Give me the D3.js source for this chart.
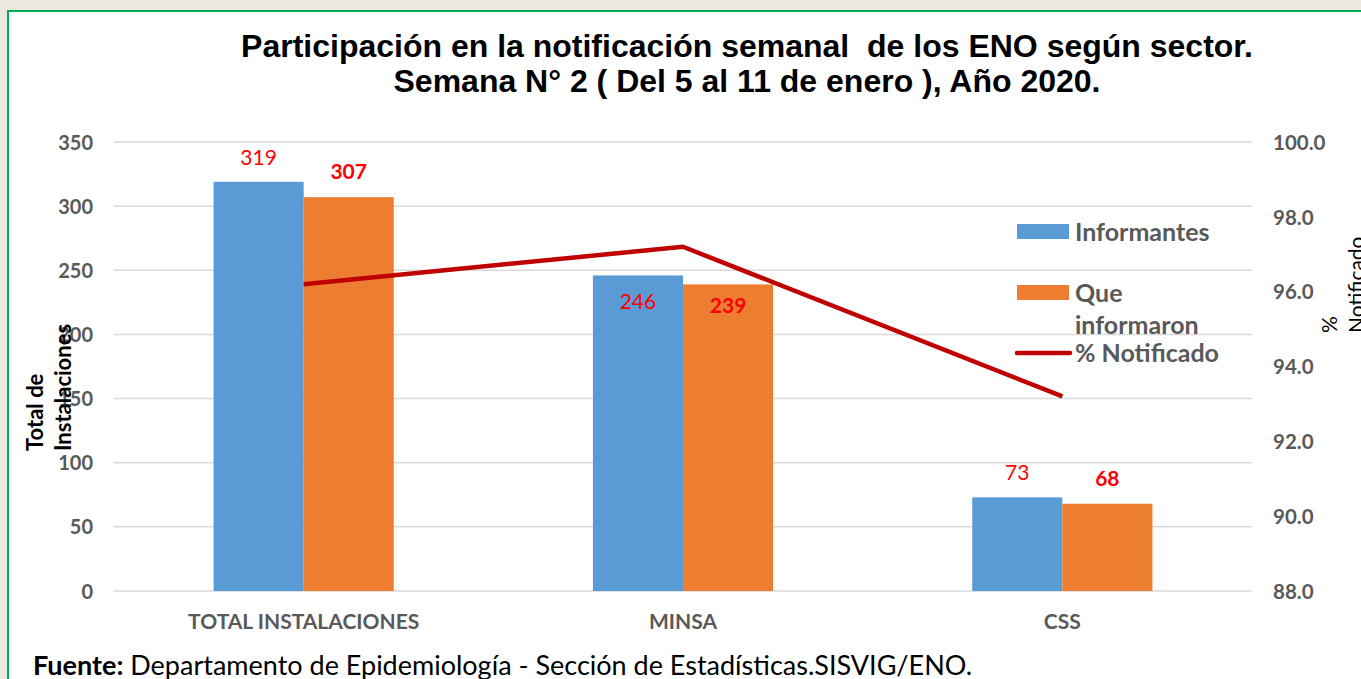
<!DOCTYPE html>
<html>
<head>
<meta charset="utf-8">
<script src="https://cdn.jsdelivr.net/npm/d3@7"></script>
<style>
  html, body { margin: 0; padding: 0; background: #ebe8df; }
  svg { display: block; }
</style>
</head>
<body>
<svg id="chart" width="1361" height="679"></svg>
<script>
// ---- Data ----
const categories = ["TOTAL INSTALACIONES", "MINSA", "CSS"];
const informantes = [319, 246, 73];
const queInformaron = [307, 239, 68];
const pctNotificado = [96.2, 97.2, 93.2];
const leftTicks = [0, 50, 100, 150, 200, 250, 300, 350];
const rightTicks = [88.0, 90.0, 92.0, 94.0, 96.0, 98.0, 100.0];
const seriesNames = ["Informantes", "Que informaron", "% Notificado"];
const insideLabelCategories = ["MINSA"];

// ---- Layout ----
const svg = d3.select("#chart");
const W = 1361, H = 679;
const plot = { left: 114, right: 1252, top: 142, bottom: 591 };
const blue = "#5b9bd5", orange = "#ed7d31", red = "#c00000", gray = "#595959";
const font = "Lato, 'Open Sans', sans-serif";

// frame
svg.append("rect").attr("x", 0).attr("y", 0).attr("width", W).attr("height", H).attr("fill", "#ebe8df");
svg.append("rect").attr("x", 8).attr("y", 11).attr("width", W + 20).attr("height", H + 20)
  .attr("fill", "#ffffff").attr("stroke", "#00b050").attr("stroke-width", 2);

// scales
const x = d3.scaleBand().domain(categories).range([plot.left, plot.right])
  .paddingInner(0.525).paddingOuter(0.2625);
const x1 = d3.scaleBand().domain([0, 1]).range([0, x.bandwidth()]).padding(0);
const yL = d3.scaleLinear().domain([0, 350]).range([plot.bottom, plot.top]);
const yR = d3.scaleLinear().domain([88, 100]).range([plot.bottom, plot.top]);

// gridlines
svg.append("g").selectAll("line").data(leftTicks).join("line")
  .attr("x1", plot.left).attr("x2", plot.right)
  .attr("y1", d => yL(d)).attr("y2", d => yL(d))
  .attr("stroke", "#d9d9d9").attr("stroke-width", 1.5);

// left axis
const axL = d3.axisLeft(yL).tickValues(leftTicks).tickSize(0).tickPadding(0).tickFormat(d3.format("d"));
const gL = svg.append("g").attr("transform", `translate(93,0)`).call(axL);
gL.select(".domain").remove();
gL.selectAll("text").attr("font-family", font).attr("font-weight", "bold")
  .attr("font-size", 20).attr("fill", gray).attr("dy", "0.35em");

// right axis
const axR = d3.axisRight(yR).tickValues(rightTicks).tickSize(0).tickPadding(0).tickFormat(d3.format(".1f"));
const gR = svg.append("g").attr("transform", `translate(1273,0)`).call(axR);
gR.select(".domain").remove();
gR.selectAll("text").attr("font-family", font).attr("font-weight", "bold")
  .attr("font-size", 20.5).attr("fill", gray).attr("dy", "0.35em");

// bottom axis
const axB = d3.axisBottom(x).tickSize(0).tickPadding(0);
const gB = svg.append("g").attr("transform", `translate(0,622)`).call(axB);
gB.select(".domain").remove();
gB.selectAll("text").attr("font-family", font).attr("font-weight", "bold")
  .attr("font-size", 21).attr("fill", gray).attr("dy", "0.35em");

// bars
const rows = categories.map((c, i) => ({ c, vals: [informantes[i], queInformaron[i]] }));
const colors = [blue, orange];
const groups = svg.append("g").selectAll("g").data(rows).join("g")
  .attr("transform", d => `translate(${x(d.c)},0)`);
groups.selectAll("rect").data(d => d.vals.map((v, k) => ({ v, k }))).join("rect")
  .attr("x", d => x1(d.k)).attr("width", x1.bandwidth())
  .attr("y", d => yL(d.v)).attr("height", d => yL(0) - yL(d.v))
  .attr("fill", d => colors[d.k]);

// bar labels
groups.each(function (row) {
  const inside = insideLabelCategories.includes(row.c);
  d3.select(this).selectAll("text.lbl").data(row.vals.map((v, k) => ({ v, k }))).join("text")
    .attr("class", "lbl")
    .attr("x", d => x1(d.k) + x1.bandwidth() / 2)
    .attr("y", d => inside ? yL(d.v) + (d.k === 0 ? 34 : 29) : yL(d.v) - (d.k === 0 ? 17 : 18))
    .attr("text-anchor", "middle")
    .attr("font-family", font).attr("font-size", 21)
    .attr("font-weight", d => d.k === 1 ? "bold" : "normal")
    .attr("fill", "#ff0000")
    .text(d => d.v);
});

// line
const line = d3.line().x((d, i) => x(categories[i]) + x.bandwidth() / 2).y(d => yR(d));
svg.append("path").datum(pctNotificado).attr("d", line)
  .attr("fill", "none").attr("stroke", red).attr("stroke-width", 4.5).attr("stroke-linejoin", "round");

// legend
const lg = svg.append("g").attr("font-family", font).attr("font-weight", "bold")
  .attr("font-size", 25).attr("fill", gray);
lg.append("rect").attr("x", 1017).attr("y", 224).attr("width", 52).attr("height", 15).attr("fill", blue);
lg.append("text").attr("x", 1075).attr("y", 241).text(seriesNames[0]);
lg.append("rect").attr("x", 1017).attr("y", 285).attr("width", 52).attr("height", 15).attr("fill", orange);
const qt = lg.append("text").attr("x", 1075).attr("y", 302);
qt.append("tspan").attr("x", 1075).text(seriesNames[1].split(" ")[0]);
qt.append("tspan").attr("x", 1075).attr("dy", 32).text(seriesNames[1].split(" ")[1]);
lg.append("line").attr("x1", 1017).attr("x2", 1070).attr("y1", 353).attr("y2", 353)
  .attr("stroke", red).attr("stroke-width", 4.5).attr("stroke-linecap", "round");
lg.append("text").attr("x", 1075).attr("y", 362).text(seriesNames[2]);

// axis titles
const yt = svg.append("text").attr("transform", "translate(43,451) rotate(-90)")
  .attr("font-family", font).attr("font-weight", "bold").attr("font-size", 22).attr("fill", "#000");
yt.append("tspan").attr("x", 0).attr("y", 0).text("Total de");
yt.append("tspan").attr("x", 0).attr("y", 28).text("Instalaciones");

const rt = svg.append("text").attr("transform", "translate(1337,333) rotate(-90)")
  .attr("font-family", font).attr("font-size", 21).attr("fill", "#000");
rt.append("tspan").attr("x", 0).attr("y", 0).text("%");
rt.append("tspan").attr("x", 0).attr("y", 27).text("Notificado");

// title
const tt = svg.append("text").attr("font-family", "'Liberation Sans', Arial, sans-serif")
  .attr("font-weight", "bold").attr("font-size", 32).attr("fill", "#000").attr("text-anchor", "middle")
  .attr("style", "white-space: pre");
tt.append("tspan").attr("x", 747).attr("y", 57).text("Participación en la notificación semanal  de los ENO según sector.");
tt.append("tspan").attr("x", 747).attr("y", 92).text("Semana N° 2 ( Del 5 al 11 de enero ), Año 2020.");

// footer
const ft = svg.append("text").attr("x", 33).attr("y", 675)
  .attr("font-family", font).attr("font-size", 27).attr("fill", "#000");
ft.append("tspan").attr("font-weight", "bold").text("Fuente:");
ft.append("tspan").text(" Departamento de Epidemiología - Sección de Estadísticas.SISVIG/ENO.");
</script>
</body>
</html>
